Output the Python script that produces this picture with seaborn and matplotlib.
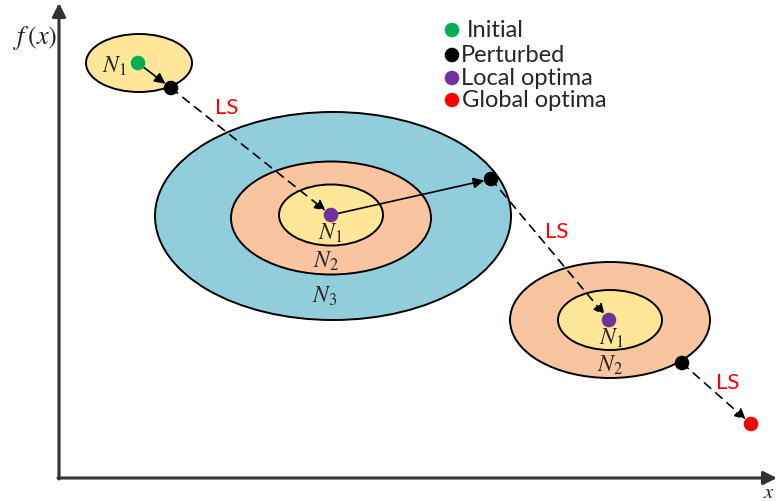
import matplotlib
matplotlib.use("Agg")
import matplotlib.pyplot as plt
import seaborn as sns
from matplotlib.patches import Ellipse

# ---- diagram data (pixel space of the original figure) ----
# neighbourhood ellipses: centre x, centre y, width, height, fill
ell_cx = [139, 333, 331, 331, 610, 610]
ell_cy = [63, 216, 218, 215, 320, 320]
ell_w = [106, 356, 200, 104, 200, 104]
ell_h = [58, 208, 113, 61, 116, 60]
ell_fill = ["#FFE699", "#92CDDC", "#F8C5A0", "#FFE699", "#F8C5A0", "#FFE699"]

# solution points
dot_x = [138, 171, 331, 491, 609, 682, 751]
dot_y = [63, 88, 215, 179, 320, 363, 424]
dot_kind = ["Initial", "Perturbed", "Local optima", "Perturbed",
            "Local optima", "Perturbed", "Global optima"]
kind_colors = {"Initial": "#00B050", "Perturbed": "#000000",
               "Local optima": "#7030A0", "Global optima": "#FF0000"}

# moves between points: (from index, to index, dashed?)
moves = [(0, 1, False), (1, 2, True), (2, 3, False), (3, 4, True), (5, 6, True)]

# neighbourhood labels
nb_labels = [r"$N_1$", r"$N_1$", r"$N_2$", r"$N_3$", r"$N_1$", r"$N_2$"]
nb_x = [114, 330, 326, 325, 611, 610]
nb_y = [66, 233, 261, 296, 338, 365]

# local search labels
ls_x = [227, 557, 728]
ls_y = [108, 232, 383]

# legend
legend_labels = ["Initial", "Perturbed", "Local optima", "Global optima"]
legend_dot_x = [452, 452, 452, 452]
legend_dot_y = [30, 55, 78, 100]
legend_text_x = [467, 461, 461, 462]

sns.set_theme(style="white")
plt.rcParams["font.family"] = ["Lato", "DejaVu Sans"]
plt.rcParams["mathtext.fontset"] = "stix"

fig = plt.figure(figsize=(7.77, 5.01), dpi=100)
ax = fig.add_axes([0, 0, 1, 1])
ax.set_xlim(0, 777)
ax.set_ylim(501, 0)
ax.axis("off")

# ellipses
for cx, cy, w, h, c in zip(ell_cx, ell_cy, ell_w, ell_h, ell_fill):
    ax.add_patch(Ellipse((cx, cy), w, h, facecolor=c, edgecolor="black",
                         linewidth=1.4, zorder=1))

# axes with arrows
axis_style = dict(arrowstyle="-|>", color="#333333", linewidth=2.2,
                  mutation_scale=20, shrinkA=0, shrinkB=0)
ax.annotate("", xy=(59, 3), xytext=(59, 479), arrowprops=axis_style,
            annotation_clip=False)
ax.annotate("", xy=(777, 478), xytext=(58, 478), arrowprops=axis_style,
            annotation_clip=False)
ax.text(35, 38, r"$f\,(x)$", fontsize=19, ha="center", va="center")
ax.text(769, 492, r"$x$", fontsize=15, ha="center", va="center")

# moves
for i, j, dashed in moves:
    ax.annotate("", xy=(dot_x[j], dot_y[j]), xytext=(dot_x[i], dot_y[i]),
                arrowprops=dict(arrowstyle="-|>", color="black", linewidth=1.2,
                                linestyle=(0, (5, 4)) if dashed else "-",
                                mutation_scale=16, shrinkA=0, shrinkB=5),
                zorder=3)

# points
sns.scatterplot(x=dot_x, y=dot_y, hue=dot_kind, palette=kind_colors,
                s=110, linewidth=0, legend=False, ax=ax, zorder=4)

for lab, x, y in zip(nb_labels, nb_x, nb_y):
    ax.text(x, y, lab, fontsize=17, ha="center", va="center", zorder=5)

for x, y in zip(ls_x, ls_y):
    ax.text(x, y, "LS", fontsize=16, color="#FF0000", ha="center", va="center")

# legend
sns.scatterplot(x=legend_dot_x, y=legend_dot_y, hue=legend_labels,
                palette=kind_colors, s=110, linewidth=0, legend=False, ax=ax)
for lab, x, y in zip(legend_labels, legend_text_x, legend_dot_y):
    ax.text(x, y, lab, fontsize=17, ha="left", va="center")

fig.savefig("out.png", dpi=100)
